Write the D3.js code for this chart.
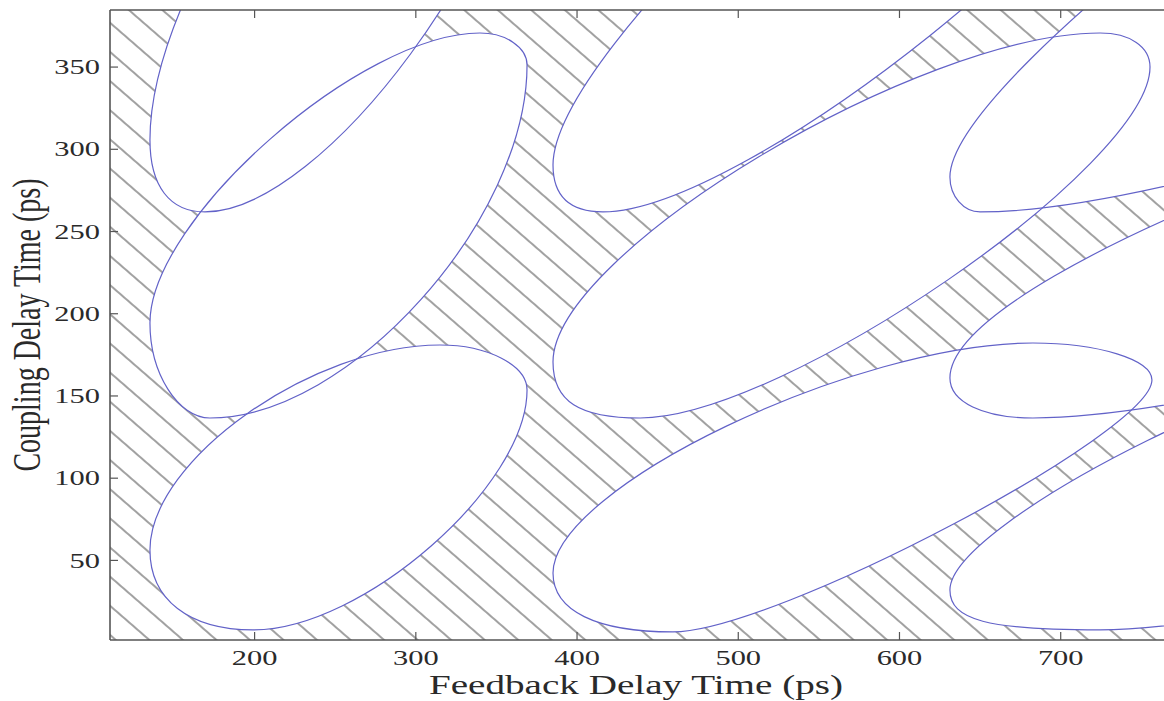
<!DOCTYPE html>
<html><head><meta charset="utf-8">
<script src="https://cdn.jsdelivr.net/npm/d3@7"></script>
<style>body{margin:0;background:#fff;overflow:hidden}</style>
</head><body>
<svg id="chart" width="1164" height="701"></svg>
<script>
// ---- data (feedback delay ps on x, coupling delay ps on y) ----
const xTickValues = [200, 300, 400, 500, 600, 700];
const yTickValues = [50, 100, 150, 200, 250, 300, 350];
const xTitle = "Feedback Delay Time (ps)";
const yTitle = "Coupling Delay Time (ps)";

// Each closed boundary curve: [xMin, xMax, yMin, yMax, y at leftmost point, x at lowest point,
//   y at rightmost point, x at highest point, fullness of arcs left-bottom, bottom-right, right-top, top-left]
const curveLowLeft  = [135.4,  369.3,   7.4, 180.7,  56.0, 199.3, 153.3, 315.3, 0.62, 0.40, 0.55, 0.44];
const curveMidLeft  = [135.4,  369.3, 136.3, 370.4, 194.1, 172.6, 351.0, 340.1, 0.53, 0.44, 0.55, 0.36];
const curveTopLeft  = [135.4,  369.3, 261.6, 572.9, 305.3, 169.5, 527.9, 335.2, 0.64, 0.37, 0.64, 0.37];
const curveLowMid   = [385.4,  756.9,   6.2, 181.9,  42.0, 459.8, 159.4, 683.1, 0.64, 0.21, 0.55, 0.37];
const curveMidMid   = [385.4,  755.7, 136.3, 370.4, 170.4, 439.4, 349.7, 724.7, 0.70, 0.28, 0.60, 0.33];
const curveTopMid   = [385.4,  755.7, 261.6, 572.9, 290.1, 416.4, 527.9, 701.7, 0.67, 0.26, 0.60, 0.25];
const curveLowRight = [631.6, 1345.0,   7.4, 181.9,  31.7, 724.7, 156.4, 941.8, 0.75, 0.20, 0.55, 0.28];
const curveMidRight = [631.6, 1345.0, 136.3, 370.4, 160.6, 683.1, 351.0, 1220.9, 0.60, 0.25, 0.55, 0.33];
const curveTopRight = [631.6, 1345.0, 261.6, 572.9, 282.8, 650.3, 527.9, 1034.8, 0.55, 0.25, 0.55, 0.22];

const curves = [curveLowLeft, curveMidLeft, curveTopLeft, curveLowMid, curveMidMid, curveTopMid,
                curveLowRight, curveMidRight, curveTopRight];

// ---- layout ----
const plot = {left: 110, top: 10, bottom: 640, right: 1170};
const x = d3.scaleLinear().domain([110, 765]).range([109, 1165]);
const y = d3.scaleLinear().domain([1.3, 384.4]).range([640, 10]);
const stretch = 1.45;
const curveColor = "#6262c8";
const frameColor = "#555";
const fontFam = "'Liberation Serif', 'Times New Roman', serif";

function curvePath(c) {
  const [x0, x1, y0, y1, yl, xb, yr, xt, kLB, kBR, kRT, kTL] = c;
  const L = [x(x0), y(yl)], B = [x(xb), y(y0)], R = [x(x1), y(yr)], T = [x(xt), y(y1)];
  const cLB = [x(x0), y(y0)], cBR = [x(x1), y(y0)], cRT = [x(x1), y(y1)], cTL = [x(x0), y(y1)];
  const p = d3.path();
  p.moveTo(L[0], L[1]);
  function arc(P0, P3, C, k) {
    p.bezierCurveTo(P0[0] + k * (C[0] - P0[0]), P0[1] + k * (C[1] - P0[1]),
                    P3[0] + k * (C[0] - P3[0]), P3[1] + k * (C[1] - P3[1]), P3[0], P3[1]);
  }
  arc(L, B, cLB, kLB);
  arc(B, R, cBR, kBR);
  arc(R, T, cRT, kRT);
  arc(T, L, cTL, kTL);
  p.closePath();
  return p.toString();
}

const svg = d3.select("#chart");
const defs = svg.append("defs");
defs.append("clipPath").attr("id", "clip")
  .append("rect").attr("x", plot.left).attr("y", plot.top)
  .attr("width", plot.right - plot.left).attr("height", plot.bottom - plot.top);
const pat = defs.append("pattern").attr("id", "hatch")
  .attr("patternUnits", "userSpaceOnUse").attr("width", 40).attr("height", 22)
  .attr("patternTransform", "rotate(41)");
pat.append("line").attr("x1", -1).attr("y1", 11).attr("x2", 41).attr("y2", 11)
  .attr("stroke", "#444").attr("stroke-width", 1);

const g = svg.append("g").attr("clip-path", "url(#clip)");
g.append("rect").attr("x", plot.left).attr("y", plot.top)
  .attr("width", plot.right - plot.left).attr("height", plot.bottom - plot.top)
  .attr("fill", "url(#hatch)");
g.selectAll("path.fill").data(curves).join("path").attr("class", "fill")
  .attr("d", curvePath).attr("fill", "#fff").attr("stroke", "none");
g.selectAll("path.edge").data(curves).join("path").attr("class", "edge")
  .attr("d", curvePath).attr("fill", "none").attr("stroke", curveColor).attr("stroke-width", 1.2);

// ---- frame and axes ----
const fr = svg.append("g").attr("stroke", frameColor).attr("stroke-width", 1.6);
fr.append("line").attr("x1", plot.left).attr("x2", plot.right).attr("y1", plot.top).attr("y2", plot.top);
fr.append("line").attr("x1", plot.left).attr("x2", plot.right).attr("y1", plot.bottom).attr("y2", plot.bottom);
fr.append("line").attr("x1", plot.left).attr("x2", plot.left).attr("y1", plot.top).attr("y2", plot.bottom);

const xAxisB = d3.axisBottom(x).tickValues(xTickValues).tickSizeInner(-8).tickSizeOuter(0).tickFormat(d3.format("d"));
const xAxisT = d3.axisTop(x).tickValues(xTickValues).tickSizeInner(-8).tickSizeOuter(0).tickFormat("");
const yAxisL = d3.axisLeft(y).tickValues(yTickValues).tickSizeInner(-8).tickSizeOuter(0).tickFormat(d3.format("d"));

function styleAxis(sel) {
  sel.select(".domain").remove();
  sel.selectAll(".tick line").attr("stroke", frameColor).attr("stroke-width", 1.2);
  sel.selectAll(".tick text").attr("fill", "#2a2a2a")
    .style("font-family", fontFam).style("font-size", "21px");
}
const gxb = svg.append("g").attr("transform", `translate(0,${plot.bottom})`).call(xAxisB).call(styleAxis);
gxb.selectAll(".tick text").attr("y", 0).attr("dy", 0)
  .attr("transform", `translate(0,25) scale(${stretch},1)`).attr("text-anchor", "middle");
svg.append("g").attr("transform", `translate(0,${plot.top})`).call(xAxisT).call(styleAxis);
const gyl = svg.append("g").attr("transform", `translate(${plot.left},0)`).call(yAxisL).call(styleAxis);
gyl.selectAll(".tick text").attr("x", 0).attr("dy", "0.34em")
  .attr("transform", `translate(-10,0) scale(${stretch},1)`).attr("text-anchor", "end");

svg.append("text").text(xTitle)
  .attr("transform", `translate(636,694) scale(${stretch},1)`)
  .attr("text-anchor", "middle").attr("fill", "#2a2a2a")
  .style("font-family", fontFam).style("font-size", "27px");
svg.append("text").text(yTitle)
  .attr("transform", `translate(40,325) scale(${stretch},1) rotate(-90)`)
  .attr("text-anchor", "middle").attr("fill", "#2a2a2a")
  .style("font-family", fontFam).style("font-size", "28px");
</script>
</body></html>
